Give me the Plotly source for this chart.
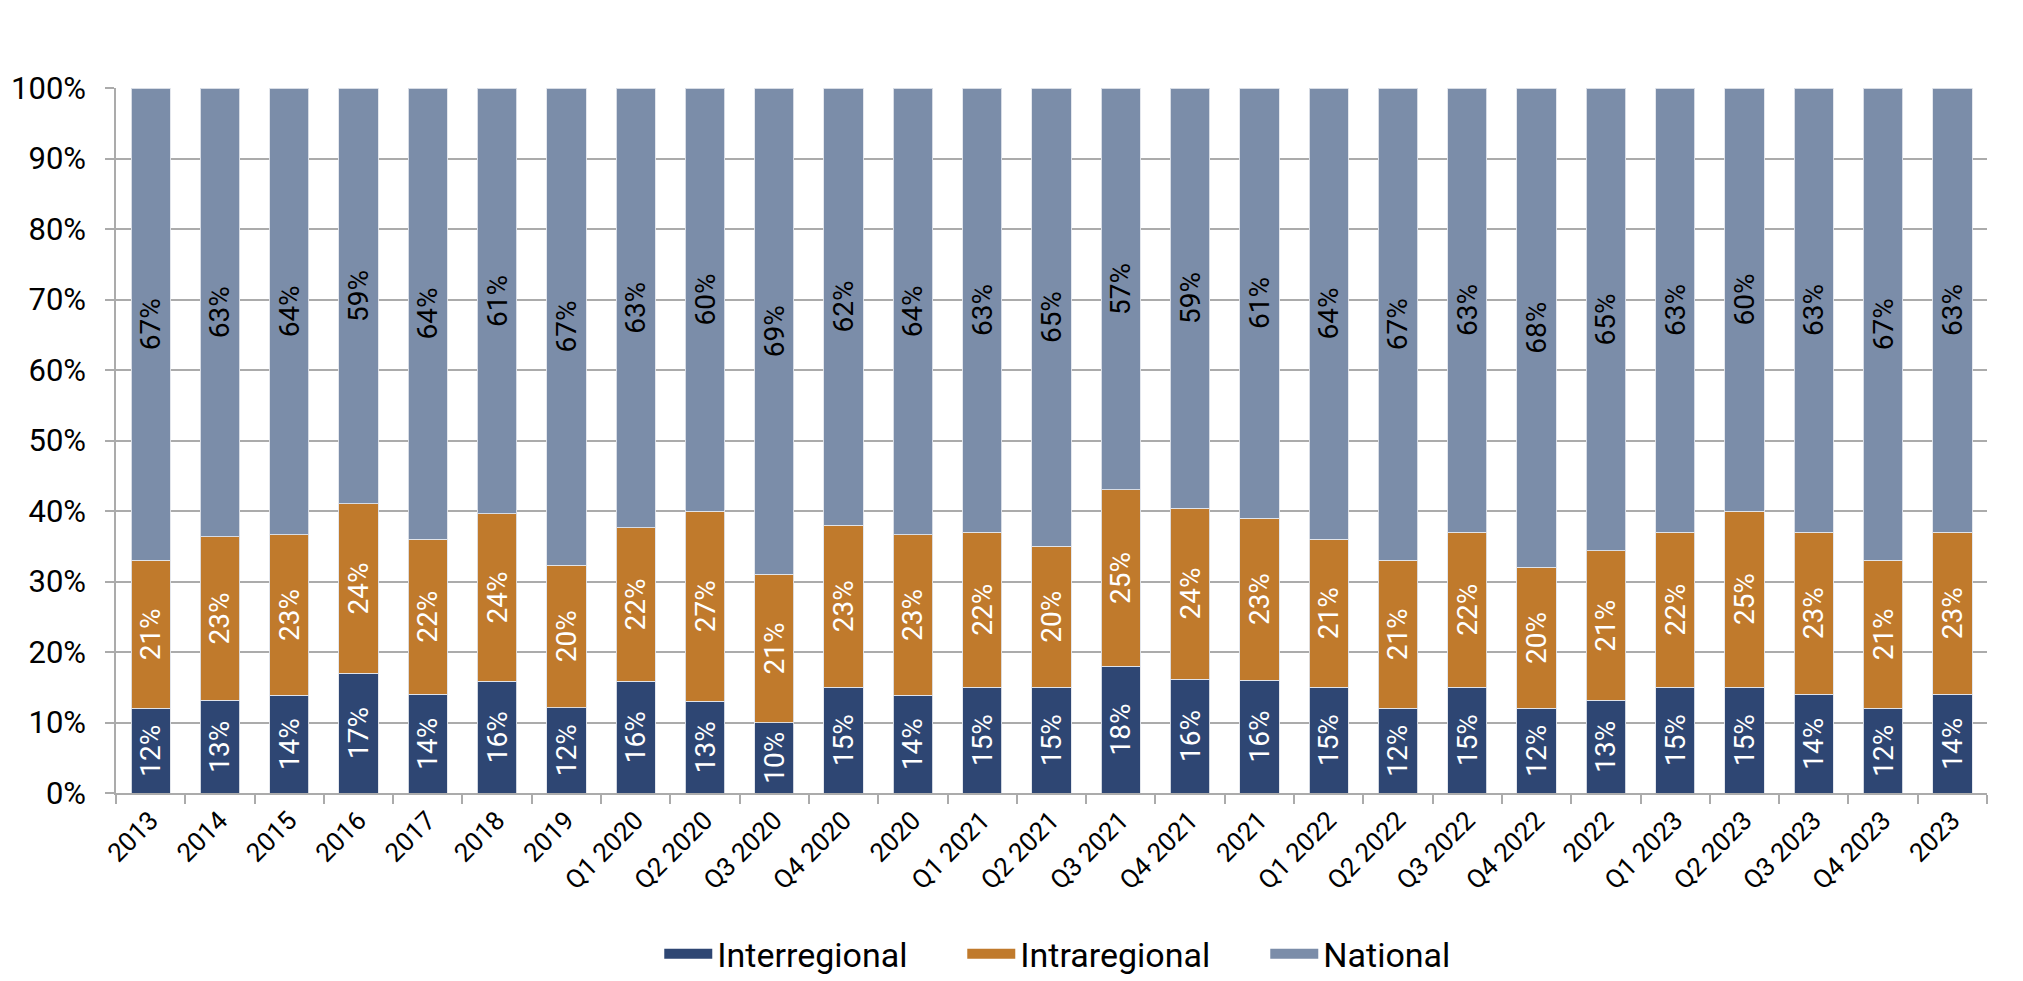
import plotly.graph_objects as go

categories = ["2013", "2014", "2015", "2016", "2017", "2018", "2019",
              "Q1 2020", "Q2 2020", "Q3 2020", "Q4 2020", "2020",
              "Q1 2021", "Q2 2021", "Q3 2021", "Q4 2021", "2021",
              "Q1 2022", "Q2 2022", "Q3 2022", "Q4 2022", "2022",
              "Q1 2023", "Q2 2023", "Q3 2023", "Q4 2023", "2023"]

interregional = [12, 13, 14, 17, 14, 16, 12, 16, 13, 10, 15, 14, 15, 15, 18, 16, 16,
                 15, 12, 15, 12, 13, 15, 15, 14, 12, 14]
intraregional = [21, 23, 23, 24, 22, 24, 20, 22, 27, 21, 23, 23, 22, 20, 25, 24, 23,
                 21, 21, 22, 20, 21, 22, 25, 23, 21, 23]
national = [67, 63, 64, 59, 64, 61, 67, 63, 60, 69, 62, 64, 63, 65, 57, 59, 61,
            64, 67, 63, 68, 65, 63, 60, 63, 67, 63]

y_ticks = [i / 10 for i in range(11)]
y_tick_labels = [f"{i * 10}%" for i in range(11)]

FONT = "Roboto, sans-serif"
GRID = "#ABABAB"

series = [
    ("Interregional", interregional, "#2E4673", "white"),
    ("Intraregional", intraregional, "#C07A2C", "white"),
    ("National", national, "#7B8DA9", "black"),
]

fig = go.Figure()
for name, vals, color, tcolor in series:
    fig.add_trace(go.Bar(
        name=name,
        x=categories,
        y=vals,
        text=[f"{v}%" for v in vals],
        textposition="inside",
        insidetextanchor="middle",
        textangle=-90,
        constraintext="none",
        textfont=dict(family=FONT, size=28, color=tcolor),
        marker=dict(color=color, line=dict(color="rgba(225,228,235,0.9)", width=1)),
        showlegend=False,
        legendgroup=name,
    ))

# legend entries drawn as wide rectangular swatches
for name, vals, color, tcolor in series:
    fig.add_trace(go.Scatter(
        name=name,
        x=[None],
        y=[None],
        mode="lines",
        line=dict(color=color, width=14),
        legendgroup=name,
        showlegend=True,
        hoverinfo="skip",
    ))

fig.update_layout(
    width=2007,
    height=973,
    barmode="stack",
    barnorm="fraction",
    bargap=0.433,
    plot_bgcolor="white",
    paper_bgcolor="white",
    margin=dict(l=108, r=28, t=80, b=188),
    font=dict(family=FONT, size=26, color="black"),
    legend=dict(
        orientation="h",
        xref="container",
        yref="container",
        x=0.3245,
        xanchor="left",
        y=0.0277,
        yanchor="middle",
        font=dict(family=FONT, size=34, color="black"),
        entrywidth=240,
        itemwidth=48,
        traceorder="normal",
    ),
    showlegend=True,
)

fig.update_xaxes(
    type="category",
    automargin=False,
    showgrid=False,
    showline=True,
    linecolor=GRID,
    linewidth=1.5,
    ticks="outside",
    tickson="boundaries",
    ticklen=9,
    tickcolor=GRID,
    tickwidth=1.5,
    tickangle=-45,
    tickfont=dict(family=FONT, size=26, color="black"),
)

fig.update_yaxes(
    automargin=False,
    range=[0, 1],
    tickvals=y_ticks,
    ticktext=y_tick_labels,
    showgrid=True,
    gridcolor=GRID,
    gridwidth=1.5,
    showline=True,
    linecolor=GRID,
    linewidth=1.5,
    ticks="outside",
    ticklen=9,
    tickcolor=GRID,
    tickwidth=1.5,
    ticklabelstandoff=13,
    tickfont=dict(family=FONT, size=31, color="black"),
    zeroline=False,
)

fig.write_html("out.html")
